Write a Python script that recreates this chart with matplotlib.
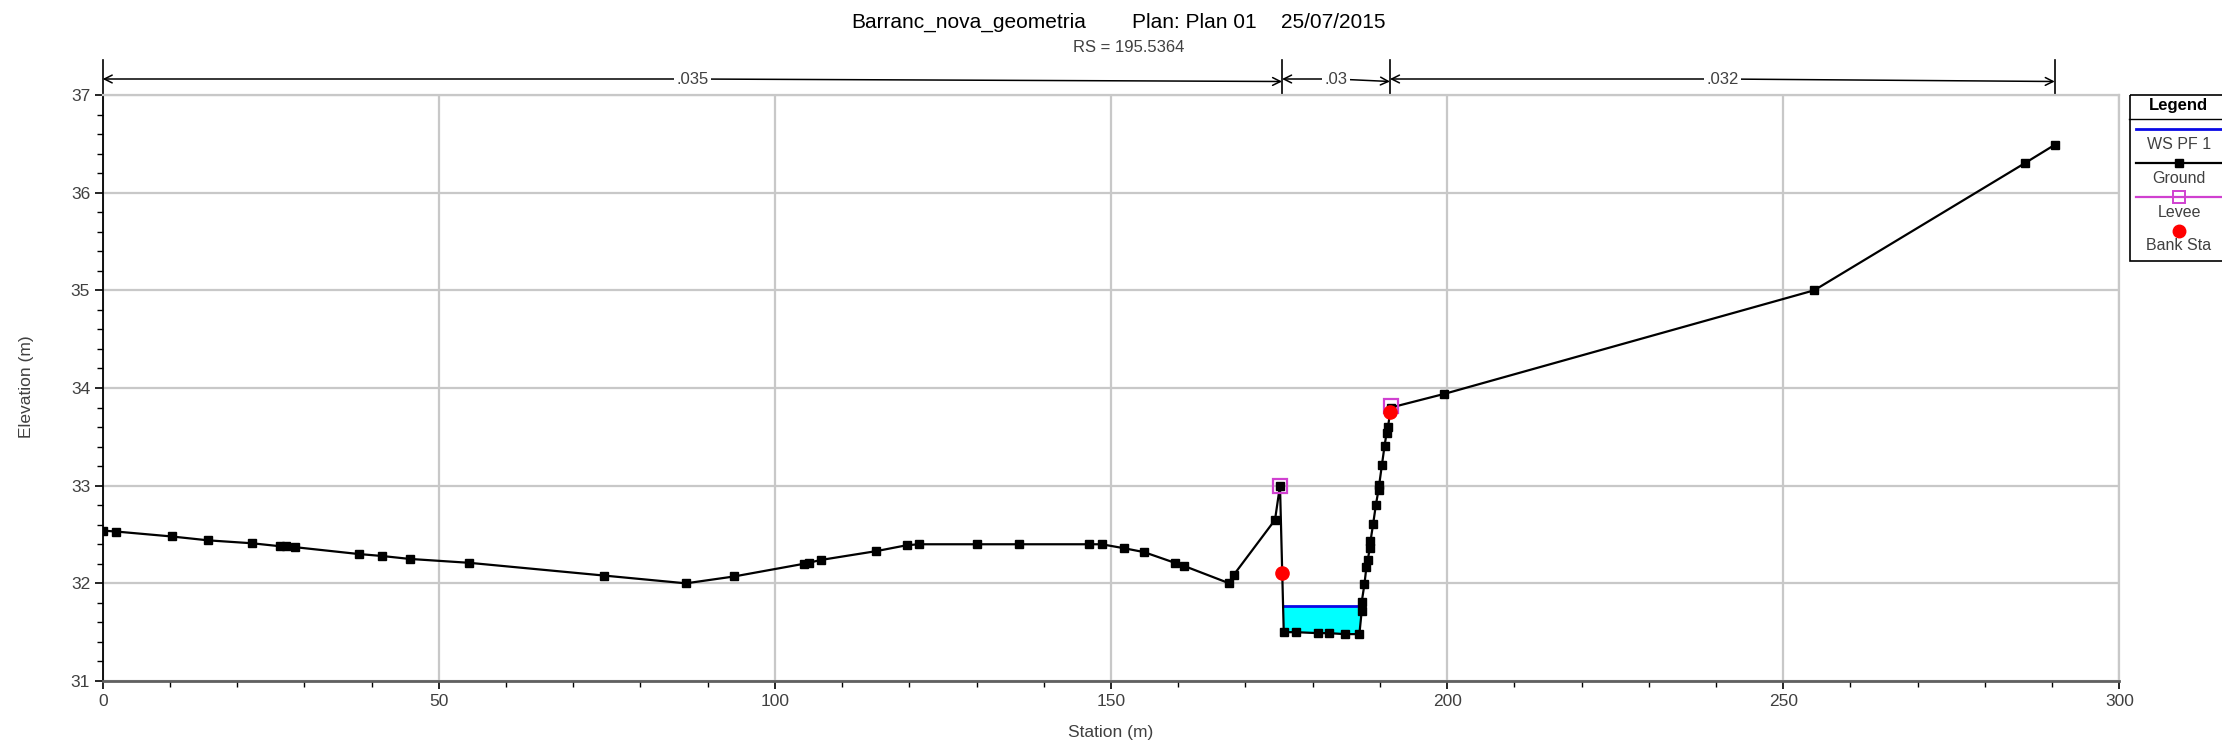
import numpy as np
import matplotlib
matplotlib.use('Agg')
import matplotlib.pyplot as plt
from matplotlib.transforms import blended_transform_factory
from matplotlib.patches import Rectangle
from matplotlib.ticker import MultipleLocator

plt.rcParams['font.family'] = ['Liberation Sans', 'DejaVu Sans']

# ---------------- data ----------------
title_name = "Barranc_nova_geometria"
title_plan = "Plan: Plan 01"
title_date = "25/07/2015"
subtitle = "RS = 195.5364"
x_label = "Station (m)"
y_label = "Elevation (m)"

ground_station = [0.0, 2.05, 10.24, 15.71, 22.26, 26.35, 27.21, 28.64, 38.09, 41.55,
                  45.65, 54.54, 74.52, 86.76, 93.9, 104.3, 105.0, 106.9, 115.1, 119.6,
                  121.4, 130.1, 136.3, 146.8, 148.6, 151.9, 154.9, 159.5, 160.8, 167.6,
                  168.3, 174.4, 175.14, 175.7, 177.5, 180.8, 182.4, 184.8, 186.95, 187.3,
                  187.3, 187.7, 188.0, 188.2, 188.5, 188.6, 189.0, 189.4, 189.8, 189.9,
                  190.3, 190.7, 191.0, 191.2, 191.65, 199.6, 254.6, 285.9, 290.4]
ground_elev = [32.54, 32.53, 32.48, 32.44, 32.41, 32.38, 32.38, 32.37, 32.30, 32.28,
               32.25, 32.21, 32.08, 32.00, 32.07, 32.20, 32.21, 32.24, 32.33, 32.39,
               32.40, 32.40, 32.40, 32.40, 32.40, 32.36, 32.32, 32.21, 32.18, 32.00,
               32.09, 32.65, 33.00, 31.50, 31.50, 31.49, 31.49, 31.48, 31.48, 31.72,
               31.81, 31.99, 32.17, 32.24, 32.36, 32.43, 32.61, 32.80, 32.96, 33.01,
               33.21, 33.41, 33.54, 33.60, 33.80, 33.94, 35.00, 36.30, 36.49]
ws_elev = 31.77
levee_station = [175.14, 191.65]
levee_elev = [33.00, 33.82]
bank_station = [175.45, 191.5]
bank_elev = [32.11, 33.75]
n_breaks = [0.0, 175.45, 191.5, 290.4]
n_values = ['.035', '.03', '.032']
legend_labels = ['WS PF 1', 'Ground', 'Levee', 'Bank Sta']

# ---------------- styles ----------------
WS_COLOR = '#0a0ae6'
FILL_COLOR = '#00ffff'
LEVEE_COLOR = '#d040d0'
BANK_COLOR = '#ff0000'
GRID_COLOR = '#c8c8c8'
TXT_COLOR = '#404040'

W, H = 2222, 747
fig = plt.figure(figsize=(W / 100, H / 100), dpi=100)
L, R, T, B = 102.7, 2119.3, 95.0, 681.0
ax = fig.add_axes([L / W, 1 - B / H, (R - L) / W, (B - T) / H])

x = np.array(ground_station)
g = np.array(ground_elev)

# water fill
ax.fill_between(x, g, ws_elev, where=g < ws_elev, interpolate=True,
                color=FILL_COLOR, lw=0, zorder=2)
idx = np.where(g < ws_elev)[0]
i0, i1 = idx[0], idx[-1]
xl = x[i0 - 1] + (ws_elev - g[i0 - 1]) * (x[i0] - x[i0 - 1]) / (g[i0] - g[i0 - 1])
xr = x[i1] + (ws_elev - g[i1]) * (x[i1 + 1] - x[i1]) / (g[i1 + 1] - g[i1])
ax.plot([xl, xr], [ws_elev, ws_elev], color=WS_COLOR, lw=2, zorder=3)

# ground
ax.plot(x, g, color='black', lw=1.6, marker='s', ms=5.5, zorder=4)
# levee
ax.plot(levee_station, levee_elev, ls='none', marker='s', ms=10, mfc='none',
        mec=LEVEE_COLOR, mew=1.6, zorder=5)
# bank stations
ax.plot(bank_station, bank_elev, ls='none', marker='o', ms=9.5, color=BANK_COLOR, zorder=6)

ax.set_xlim(0, 300)
ax.set_ylim(31, 37)
ax.set_xticks(np.arange(0, 301, 50))
ax.set_yticks(np.arange(31, 38, 1))
ax.xaxis.set_minor_locator(MultipleLocator(10))
ax.yaxis.set_minor_locator(MultipleLocator(0.2))
ax.grid(True, which='major', color=GRID_COLOR, lw=1.6, zorder=0)
ax.set_axisbelow(True)
for s in ['top', 'right']:
    ax.spines[s].set_color(GRID_COLOR)
    ax.spines[s].set_linewidth(1.6)
ax.spines['left'].set_color('black')
ax.spines['left'].set_linewidth(1.3)
ax.spines['bottom'].set_color('#606060')
ax.spines['bottom'].set_linewidth(2)
ax.tick_params(which='major', direction='out', length=6, width=1.2, color='black',
               labelcolor=TXT_COLOR, labelsize=12.5, pad=3)
ax.tick_params(which='minor', direction='out', length=4, width=1, color='black')

# Manning's n bar above plot
trans = blended_transform_factory(ax.transData, fig.transFigure)
y_line = 1 - 79 / H
for b in n_breaks:
    ax.plot([b, b], [1 - 60 / H, 1 - 95 / H], color='black', lw=1.2,
            transform=trans, clip_on=False)
for a, b, lab in zip(n_breaks[:-1], n_breaks[1:], n_values):
    mid = (a + b) / 2
    ax.annotate('', xy=(a, y_line), xytext=(mid, y_line), xycoords=trans, textcoords=trans,
                arrowprops=dict(arrowstyle='->', color='black', lw=1.1, shrinkA=0,
                                shrinkB=0, mutation_scale=14))
    ax.annotate('', xy=(b, y_line - 2.5 / H), xytext=(mid, y_line), xycoords=trans,
                textcoords=trans,
                arrowprops=dict(arrowstyle='->', color='black', lw=1.1, shrinkA=0,
                                shrinkB=0, mutation_scale=14))
    ax.text(mid, y_line, lab, transform=trans, ha='center', va='center', fontsize=12,
            color=TXT_COLOR, zorder=10,
            bbox=dict(boxstyle='square,pad=0.15', fc='white', ec='none'))

# titles
fig.text(851 / W, 1 - 22 / H, title_name, ha='left', va='center', fontsize=15, color='black')
fig.text(1131.6 / W, 1 - 22 / H, title_plan, ha='left', va='center', fontsize=15, color='black')
fig.text(1281 / W, 1 - 22 / H, title_date, ha='left', va='center', fontsize=15, color='black')
fig.text(1128.5 / W, 1 - 48 / H, subtitle, ha='center', va='center', fontsize=12, color=TXT_COLOR)

fig.text(26 / W, 1 - 387 / H, y_label, rotation=90, ha='center', va='center',
         fontsize=12.5, color=TXT_COLOR)
fig.text(1111 / W, 1 - 733 / H, x_label, ha='center', va='center', fontsize=12.5,
         color=TXT_COLOR)

# legend box
lx0, ly0, ly1 = 2129.0, 95.0, 262.0
lax = fig.add_axes([lx0 / W, 1 - ly1 / H, 100 / W, (ly1 - ly0) / H])
lax.set_xlim(lx0, lx0 + 100)
lax.set_ylim(ly1, ly0)
lax.axis('off')
lax.add_patch(Rectangle((lx0 + 0.5, ly0 + 0.5), 200, ly1 - ly0 - 1, fill=False,
                        ec='black', lw=1.2, clip_on=False))
lax.plot([lx0, lx0 + 120], [119, 119], color='black', lw=1, clip_on=False)
lax.text(2178, 106, 'Legend', ha='center', va='center', fontsize=12,
         fontweight='bold', color='black')
cx = 2179
x_l = [2136, 2230]
lax.plot(x_l, [129, 129], color=WS_COLOR, lw=2, clip_on=False)
lax.text(cx, 145, legend_labels[0], ha='center', va='center', fontsize=11.5, color=TXT_COLOR)
lax.plot(x_l, [163, 163], color='black', lw=1.6, clip_on=False)
lax.plot([cx], [163], marker='s', ms=5.5, color='black', clip_on=False)
lax.text(cx, 179, legend_labels[1], ha='center', va='center', fontsize=11.5, color=TXT_COLOR)
lax.plot(x_l, [197, 197], color=LEVEE_COLOR, lw=1.6, clip_on=False)
lax.plot([cx], [197], marker='s', ms=9, mfc='none', mec=LEVEE_COLOR, mew=1.4, clip_on=False)
lax.text(cx, 213, legend_labels[2], ha='center', va='center', fontsize=11.5, color=TXT_COLOR)
lax.plot([cx], [231], marker='o', ms=9, color=BANK_COLOR, clip_on=False)
lax.text(cx, 246, legend_labels[3], ha='center', va='center', fontsize=11.5, color=TXT_COLOR)

fig.savefig('out.png', dpi=100)
